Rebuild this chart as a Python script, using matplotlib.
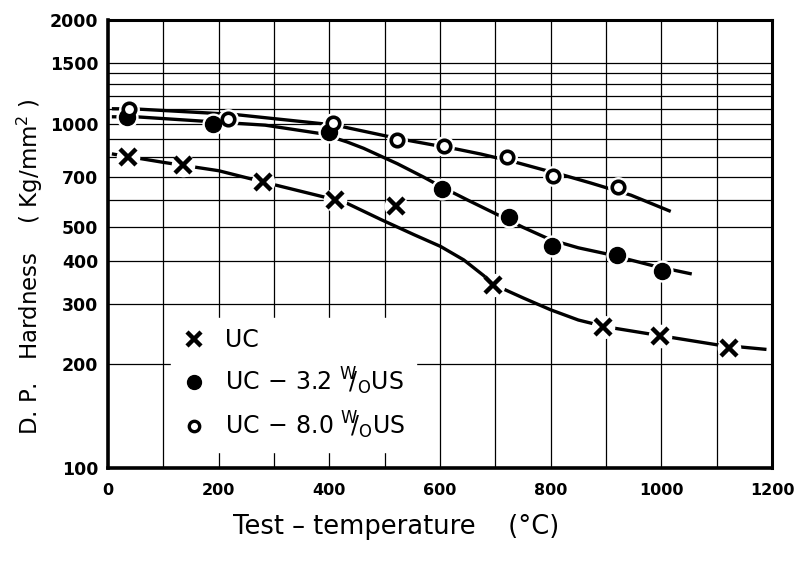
import matplotlib
matplotlib.use("Agg")
import matplotlib.pyplot as plt
from matplotlib.lines import Line2D

# ---------------- data ----------------
# measured points
uc_t = [36, 136, 281, 411, 521, 695, 894, 997, 1122]
uc_h = [802, 760, 677, 601, 577, 340, 257, 242, 223]

us32_t = [34, 190, 400, 603, 725, 802, 919, 1002]
us32_h = [1047, 1000, 948, 647, 536, 442, 416, 374]

us80_t = [38, 217, 406, 523, 607, 721, 804, 921]
us80_h = [1106, 1034, 1007, 894, 859, 800, 703, 653]

# hand-drawn trend curves
uc_curve_t = [7, 100, 200, 300, 411, 431, 494, 553, 601, 643, 679, 695, 750, 800, 850, 900, 1000, 1100, 1190]
uc_curve_h = [817, 772, 730, 665, 601, 588, 526, 476, 440, 402, 362, 342, 312, 288, 269, 257, 242, 228, 221]

us32_curve_t = [7, 54, 175, 284, 386, 432, 462, 523, 570, 603, 650, 700, 750, 800, 850, 903, 987, 1055]
us32_curve_h = [1047, 1046, 1016, 990, 935, 885, 848, 765, 700, 655, 600, 548, 500, 460, 436, 418, 386, 366]

us80_curve_t = [7, 51, 181, 232, 386, 421, 505, 541, 583, 631, 674, 740, 782, 824, 873, 945, 1017]
us80_curve_h = [1105, 1103, 1074, 1062, 1000, 982, 919, 895, 870, 843, 816, 770, 738, 708, 672, 620, 556]

labels = ["UC",
          r"UC$\,-\,$3.2 $^{\mathrm{W}}\!\!/_{\mathrm{O}}$US",
          r"UC$\,-\,$8.0 $^{\mathrm{W}}\!\!/_{\mathrm{O}}$US"]

xticks = [0, 200, 400, 600, 800, 1000, 1200]
yticks = [100, 200, 300, 400, 500, 700, 1000, 1500, 2000]
ygrid = [200, 300, 400, 500, 600, 700, 800, 900, 1000, 1100, 1200, 1300, 1400, 1500]
xgrid = list(range(100, 1200, 100))

# ---------------- figure ----------------
plt.rcParams['font.family'] = ['DejaVu Sans']
plt.rcParams['mathtext.fontset'] = 'dejavusans'

fig = plt.figure(figsize=(7.94, 5.62), dpi=100)
ax = fig.add_axes([108/794, 1-468/562, 664/794, 448/562])
ax.set_yscale('log')
ax.set_xlim(0, 1200)
ax.set_ylim(100, 2000)

for g in ygrid:
    ax.axhline(g, color='black', lw=0.9, zorder=1)
for g in xgrid:
    ax.axvline(g, color='black', lw=0.9, zorder=1)

lw = 2.4
for ct, ch in [(uc_curve_t, uc_curve_h), (us32_curve_t, us32_curve_h), (us80_curve_t, us80_curve_h)]:
    ax.plot(ct, ch, color='black', lw=lw, zorder=2, solid_capstyle='butt', solid_joinstyle='round')

# white halos to break the curves near each marker
ax.plot(uc_t, uc_h, ls='none', marker='o', ms=17, mfc='white', mec='none', zorder=3)
ax.plot(us32_t, us32_h, ls='none', marker='o', ms=16, mfc='white', mec='none', zorder=3)
ax.plot(us80_t, us80_h, ls='none', marker='o', ms=15, mfc='white', mec='none', zorder=3)

ax.plot(uc_t, uc_h, ls='none', marker='x', ms=11, mew=3.2, color='black', zorder=4)
ax.plot(us32_t, us32_h, ls='none', marker='o', ms=11.5, mfc='black', mec='black', zorder=4)
ax.plot(us80_t, us80_h, ls='none', marker='o', ms=9, mfc='white', mec='black', mew=2.6, zorder=4)

ax.set_xticks(xticks)
ax.set_xticklabels([str(v) for v in xticks])
ax.set_yticks(yticks)
ax.set_yticklabels([str(v) for v in yticks])
ax.minorticks_off()
ax.tick_params(length=0)
ax.tick_params(axis='x', labelsize=11.5, pad=11)
ax.tick_params(axis='y', labelsize=12.5, pad=7)
for lab in ax.get_xticklabels() + ax.get_yticklabels():
    lab.set_fontweight('bold')

for side, w in [('left', 2.6), ('bottom', 2.6), ('top', 2.2), ('right', 2.2)]:
    ax.spines[side].set_linewidth(w)
    ax.spines[side].set_zorder(5)

handles = [
    Line2D([], [], ls='none', marker='x', ms=10, mew=3.2, color='black'),
    Line2D([], [], ls='none', marker='o', ms=10, mfc='black', mec='black'),
    Line2D([], [], ls='none', marker='o', ms=7.5, mfc='white', mec='black', mew=2.4),
]
leg = ax.legend(handles, labels, loc='lower left', bbox_to_anchor=(0.095, 0.036),
                borderaxespad=0, frameon=True, fancybox=False, fontsize=17,
                handlelength=1.0, handletextpad=0.85, labelspacing=0.55,
                borderpad=0.45)
leg.get_frame().set_facecolor('white')
leg.get_frame().set_edgecolor('white')
leg.get_frame().set_alpha(1)
leg.set_zorder(6)

fig.text(30/794, 1-267/562, r"D. P.   Hardness    ( Kg/mm$^{2}$ )", rotation=90,
         ha='center', va='center', fontsize=16.5)
fig.text(396/794, 1-527/562, "Test – temperature    (°C)", ha='center', va='center',
         fontsize=18.5)

fig.savefig("out.png", dpi=100)
